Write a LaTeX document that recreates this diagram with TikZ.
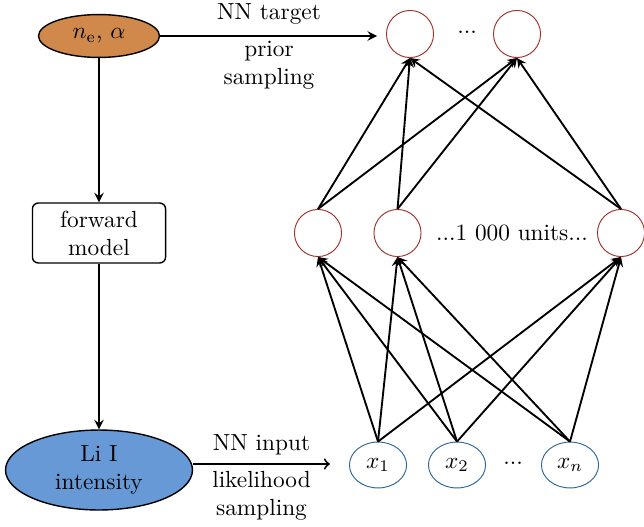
\documentclass[tikz,border=0pt]{standalone}
\usetikzlibrary{shapes.geometric,arrows}
\definecolor{orangefill}{RGB}{208,137,74}
\definecolor{bluefill}{RGB}{102,153,214}
\definecolor{redline}{RGB}{160,48,40}
\definecolor{blueline}{RGB}{40,100,150}
\begin{document}
\begin{tikzpicture}[x=0.429pt,y=-0.429pt,
  conn/.style={-stealth,thick},
  connto/.style={->,thick},
  unit/.style={circle,draw=redline,minimum size=20.2pt,inner sep=0pt},
  inp/.style={ellipse,draw=blueline,minimum width=24.5pt,minimum height=19.7pt,inner sep=0pt},
  lbl/.style={align=center,inner sep=0pt}]
\useasboundingbox (0,0) rectangle (644,526);
% left column
\node[ellipse,draw,semithick,fill=orangefill,minimum width=51.9pt,minimum height=18.4pt,inner sep=0pt] (ne) at (99,36) {$n_{\mathrm{e}}$, $\alpha$};
\node[draw,semithick,rounded corners=2.5pt,minimum width=57.1pt,minimum height=25.7pt,inner sep=0pt,align=center] (fm) at (99,233) {forward\\model};
\node[ellipse,draw,semithick,fill=bluefill,minimum width=80.2pt,minimum height=34.3pt,inner sep=0pt,align=center] (li) at (99,470) {Li I\\intensity};
\draw[conn] (ne.south) -- (ne.south |- fm.north);
\draw[conn] (fm.south) -- (fm.south |- li.north);
% output layer
\node[unit] (o1) at (410,34) {};
\node[unit] (o2) at (517,34) {};
\node (od) at (467,32) {...};
% hidden layer
\node[unit] (h1) at (318,233) {};
\node[unit] (h2) at (397.5,233) {};
\node[unit] (h3) at (621,233) {};
\node (hd) at (512,233) {...1 000 units...};
% input layer
\node[inp] (x1) at (378,465) {$x_1$};
\node[inp] (x2) at (457,465) {$x_2$};
\node[inp] (xn) at (570,465) {$x_n$};
\node (xd) at (513,463) {...};
% horizontal arrows
\coordinate (tend) at (377,36);
\coordinate (bend) at (330,464);
\draw[conn] (ne.east) -- (tend);
\node[lbl] (t1) at (269,14) {NN target};
\node[lbl] (t2) at (269,65) {prior\\sampling};
\draw[connto] (li.east |- bend) -- (bend);
\node[lbl] (b1) at (261.5,445) {NN input};
\node[lbl] (b2) at (261.5,496) {likelihood\\sampling};
% connections
\foreach \i in {x1,x2,xn}
  \foreach \h in {h1,h2,h3}
    \draw[conn] (\i.north) -- (\h.south);
\foreach \h in {h1,h2,h3}
  \foreach \o in {o1,o2}
    \draw[conn] (\h.north) -- (\o.south);
\end{tikzpicture}
\end{document}
